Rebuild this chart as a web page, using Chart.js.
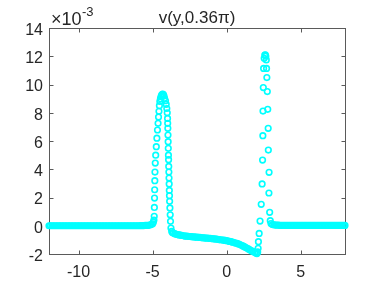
<!DOCTYPE html>
<html>
<head>
<meta charset="utf-8">
<script src="https://cdn.jsdelivr.net/npm/chart.js@4.4.1/dist/chart.umd.min.js"></script>
<style>
  html, body { margin: 0; padding: 0; background: #fff; }
</style>
</head>
<body>
<canvas id="chart" width="382" height="286"></canvas>
<script>
// v(y, 0.36*pi) -- y values are in units of 1e-3 (see the x10^-3 label)
const titleText = "v(y,0.36\u03c0)";
const xTicks = [-10, -5, 0, 5];
const yTicks = [-2, 0, 2, 4, 6, 8, 10, 12, 14];

// [y, v] pairs
const baselineLeft = [
  [-12,0],[-11.9,0],[-11.8,0],[-11.7,0],[-11.6,0],[-11.5,0],[-11.4,0],[-11.3,0],[-11.2,0],[-11.1,0],
  [-11,0],[-10.9,0],[-10.8,0],[-10.7,0],[-10.6,0],[-10.5,0],[-10.4,0],[-10.3,0],[-10.2,0],[-10.1,0],
  [-10,0],[-9.9,0],[-9.8,0],[-9.7,0],[-9.6,0],[-9.5,0],[-9.4,0],[-9.3,0],[-9.2,0],[-9.1,0],
  [-9,0],[-8.9,0],[-8.8,0],[-8.7,0],[-8.6,0],[-8.5,0],[-8.4,0],[-8.3,0],[-8.2,0],[-8.1,0],
  [-8,0],[-7.9,0],[-7.8,0],[-7.7,0],[-7.6,0],[-7.5,0],[-7.4,0],[-7.3,0],[-7.2,0],[-7.1,0],
  [-7,0],[-6.9,0],[-6.8,0],[-6.7,0],[-6.6,0],[-6.5,0],[-6.4,0],[-6.3,0],[-6.2,0],[-6.1,0],
  [-6,0],[-5.9,0],[-5.8,0.01],[-5.7,0.01],[-5.6,0.01],[-5.5,0.02],[-5.4,0.02],[-5.3,0.03],[-5.2,0.05],[-5.1,0.08],
  [-5,0.14],[-4.95,0.25],[-4.91,0.4]
];
const pulseLeft = [
  [-4.89,0.67],[-4.88,1.3],[-4.87,1.96],[-4.86,2.55],[-4.85,3.19],[-4.84,3.8],[-4.82,4.44],[-4.79,5.0],
  [-4.75,5.6],[-4.71,6.2],[-4.67,6.78],[-4.63,7.25],[-4.6,7.7],[-4.57,8.1],[-4.54,8.5],[-4.51,8.8],
  [-4.47,9.0],[-4.43,9.15],[-4.39,9.25],[-4.35,9.3],[-4.31,9.32],[-4.27,9.28],[-4.23,9.18],[-4.19,9.02],
  [-4.13,8.85],[-4.08,8.6],[-4.04,8.3],[-4.01,8.0],[-3.99,7.6],[-3.98,7.25],[-3.97,6.9],[-3.96,6.42],
  [-3.95,5.95],[-3.94,5.48],[-3.93,5.0],[-3.92,4.68],[-3.91,4.2],[-3.9,3.8],[-3.89,3.38],[-3.88,2.96],
  [-3.87,2.5],[-3.86,2.13],[-3.85,1.73],[-3.83,1.26],[-3.81,0.78],[-3.79,0.31],[-3.76,-0.16],[-3.71,-0.4],
  [-3.65,-0.5]
];
const drift = [
  [-3.6,-0.52],[-3.5,-0.56],[-3.4,-0.6],[-3.3,-0.63],[-3.2,-0.65],[-3.1,-0.67],[-3,-0.69],[-2.9,-0.71],
  [-2.8,-0.73],[-2.7,-0.74],[-2.6,-0.75],[-2.5,-0.76],[-2.4,-0.77],[-2.3,-0.78],[-2.2,-0.79],[-2.1,-0.8],
  [-2,-0.81],[-1.9,-0.82],[-1.8,-0.83],[-1.7,-0.84],[-1.6,-0.85],[-1.5,-0.86],[-1.4,-0.87],[-1.3,-0.88],
  [-1.2,-0.89],[-1.1,-0.9],[-1,-0.91],[-0.9,-0.92],[-0.8,-0.93],[-0.7,-0.95],[-0.6,-0.96],[-0.5,-0.98],
  [-0.4,-0.99],[-0.3,-1.01],[-0.2,-1.02],[-0.1,-1.04],[0,-1.06],[0.1,-1.08],[0.2,-1.11],[0.3,-1.13],
  [0.4,-1.16],[0.5,-1.19],[0.6,-1.22],[0.7,-1.25],[0.8,-1.29],[0.9,-1.33],[1,-1.38],[1.1,-1.43],
  [1.2,-1.48],[1.3,-1.54],[1.4,-1.6],[1.5,-1.66],[1.6,-1.72],[1.7,-1.78],[1.8,-1.83],[1.9,-1.89],
  [2,-1.95],[2.05,-1.97],[2.1,-1.85]
];
const pulseRight = [
  [2.13,-1.6],[2.15,-1.13],[2.2,-0.54],[2.26,0.33],[2.34,1.52],[2.4,2.96],[2.43,4.65],[2.45,6.38],
  [2.46,8.12],[2.48,9.78],[2.5,11.14],[2.54,11.85],[2.58,12.08],[2.62,12.1],[2.65,12.0],[2.68,11.74],
  [2.7,11.14],[2.72,10.49],[2.75,9.5],[2.78,8.24],[2.81,6.9],[2.82,5.36],[2.87,3.78],[2.86,2.32],
  [2.91,0.95],[2.95,0.36]
];
const baselineRight = [
  [3,0.16],[3.1,0.09],[3.2,0.06],[3.3,0.05],[3.4,0.04],[3.5,0.04],[3.6,0.03],[3.7,0.03],[3.8,0.03],[3.9,0.03],
  [4,0.02],[4.1,0.02],[4.2,0.02],[4.3,0.02],[4.4,0.02],[4.5,0.02],[4.6,0.02],[4.7,0.02],[4.8,0.02],[4.9,0.02],
  [5,0.02],[5.1,0.02],[5.2,0.02],[5.3,0.02],[5.4,0.02],[5.5,0.02],[5.6,0.02],[5.7,0.02],[5.8,0.02],[5.9,0.02],
  [6,0.02],[6.1,0.02],[6.2,0.02],[6.3,0.02],[6.4,0.02],[6.5,0.02],[6.6,0.02],[6.7,0.02],[6.8,0.02],[6.9,0.02],
  [7,0.02],[7.1,0.02],[7.2,0.02],[7.3,0.02],[7.4,0.02],[7.5,0.02],[7.6,0.02],[7.7,0.02],[7.8,0.02],[7.9,0.02],
  [8,0.02]
];

const FONT = "'Liberation Sans', Arial, Helvetica, sans-serif";
const TEXT = "#262626";

const points = [].concat(baselineLeft, pulseLeft, drift, pulseRight, baselineRight)
  .map(p => ({ x: p[0], y: p[1] }));

// matlab-ish box with inward ticks, title and exponent label
const matlabAxes = {
  id: "matlabAxes",
  beforeDatasetsDraw(chart) {
    const { ctx, chartArea: a, scales } = chart;
    const L = Math.round(a.left) + 0.5, R = Math.round(a.right) + 0.5;
    const T = Math.round(a.top) + 0.5, B = Math.round(a.bottom) + 0.5;
    const tl = 4;
    ctx.save();
    ctx.strokeStyle = "#5a5a5a";
    ctx.lineWidth = 1;
    ctx.strokeRect(L, T, R - L, B - T);
    ctx.beginPath();
    xTicks.forEach(v => {
      const px = Math.round(scales.x.getPixelForValue(v)) + 0.5;
      ctx.moveTo(px, B); ctx.lineTo(px, B - tl);
      ctx.moveTo(px, T); ctx.lineTo(px, T + tl);
    });
    yTicks.forEach(v => {
      const py = Math.round(scales.y.getPixelForValue(v)) + 0.5;
      ctx.moveTo(L, py); ctx.lineTo(L + tl, py);
      ctx.moveTo(R, py); ctx.lineTo(R - tl, py);
    });
    ctx.stroke();
    ctx.restore();
  },
  afterDraw(chart) {
    const { ctx, chartArea: a } = chart;
    ctx.save();
    ctx.fillStyle = TEXT;
    ctx.textAlign = "center";
    ctx.textBaseline = "alphabetic";
    ctx.font = "17px " + FONT;
    ctx.fillText(titleText, (a.left + a.right) / 2, 23);
    ctx.textAlign = "left";
    ctx.font = "18px " + FONT;
    ctx.fillText("\u00d710", 51, 25);
    ctx.font = "13px " + FONT;
    ctx.fillText("-3", 82, 16);
    ctx.restore();
  }
};

new Chart(document.getElementById("chart"), {
  type: "scatter",
  data: {
    datasets: [{
      data: points,
      showLine: false,
      clip: false,
      pointStyle: "circle",
      pointRadius: 2.8,
      pointBorderWidth: 1.6,
      pointBorderColor: "#00ffff",
      pointBackgroundColor: "rgba(0,0,0,0)"
    }]
  },
  options: {
    responsive: false,
    animation: false,
    events: [],
    layout: { padding: { top: 28, right: 37, left: 0, bottom: 0 }, autoPadding: false },
    plugins: { legend: { display: false }, tooltip: { enabled: false } },
    scales: {
      x: {
        type: "linear", min: -12, max: 8,
        afterBuildTicks: s => { s.ticks = xTicks.map(v => ({ value: v })); },
        afterFit: s => { s.height = 32; },
        grid: { display: false, drawTicks: false },
        border: { display: false },
        ticks: { color: TEXT, font: { family: FONT, size: 16 }, padding: 9, maxRotation: 0 }
      },
      y: {
        type: "linear", min: -2, max: 14,
        afterBuildTicks: s => { s.ticks = yTicks.map(v => ({ value: v })); },
        afterFit: s => { s.width = 49; },
        grid: { display: false, drawTicks: false },
        border: { display: false },
        ticks: { color: TEXT, font: { family: FONT, size: 16 }, padding: 6, labelOffset: 2.5 }
      }
    }
  },
  plugins: [matlabAxes]
});
</script>
</body>
</html>
